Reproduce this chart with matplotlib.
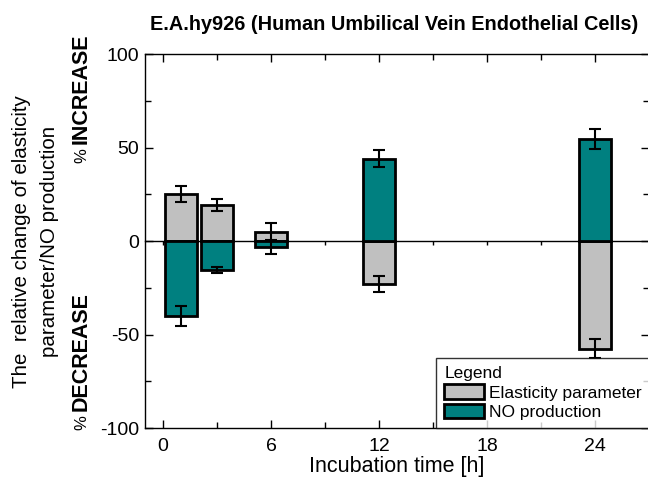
import matplotlib
matplotlib.use("Agg")
import matplotlib.pyplot as plt
import numpy as np
from matplotlib.patches import Patch
from matplotlib.ticker import MultipleLocator

plt.rcParams['font.family'] = ['Liberation Sans', 'DejaVu Sans']
plt.rcParams['axes.unicode_minus'] = False

# data
hours = [1, 3, 6, 12, 24]
elasticity = [25, 19.5, 5, -23, -57.5]
elasticity_err = [4.3, 3.2, 4.5, 4.3, 5.3]
no_prod = [-40, -15.5, -3.4, 44, 54.5]
no_prod_err = [5.2, 1.5, 3.5, 4.5, 5.5]

gray = '#c0c0c0'
teal = '#008080'

fig = plt.figure(figsize=(6.48, 4.90), dpi=100)
ax = fig.add_axes([145 / 648, 1 - 428 / 490, 504 / 648, 374 / 490])

ax.bar(hours, elasticity, width=1.8, color=gray, edgecolor='black', linewidth=2, zorder=2)
ax.bar(hours, no_prod, width=1.8, color=teal, edgecolor='black', linewidth=2, zorder=2)
ax.errorbar(hours, elasticity, yerr=elasticity_err, fmt='none', ecolor='black',
            elinewidth=1.5, capsize=4, capthick=1.5, zorder=3)
ax.errorbar(hours, no_prod, yerr=no_prod_err, fmt='none', ecolor='black',
            elinewidth=1.5, capsize=4, capthick=1.5, zorder=3)

ax.set_xlim(-1, 27)
ax.set_ylim(-100, 100)
ax.set_xticks([0, 6, 12, 18, 24])
ax.xaxis.set_minor_locator(MultipleLocator(3))
ax.set_yticks([-100, -50, 0, 50, 100])
ax.yaxis.set_minor_locator(MultipleLocator(25))
ax.tick_params(which='both', direction='in', top=True, right=True, width=1)
ax.tick_params(which='major', length=6, labelsize=14)
ax.tick_params(which='minor', length=4)
ax.tick_params(axis='x', pad=7)
ax.tick_params(axis='y', pad=4)
for s in ax.spines.values():
    s.set_linewidth(1)

# zero line with its own small ticks
zax = ax.secondary_xaxis(0.5)
zax.set_xticks([0, 6, 12, 18, 24])
zax.xaxis.set_minor_locator(MultipleLocator(3))
zax.tick_params(which='both', direction='in', length=3, width=1,
                labeltop=False, labelbottom=False)
for s in zax.spines.values():
    s.set_linewidth(1)

ax.set_xlabel('Incubation time [h]', fontsize=15.5, labelpad=1)
fig.text(394 / 648, 1 - 25 / 490, 'E.A.hy926 (Human Umbilical Vein Endothelial Cells)',
         ha='center', va='center', fontsize=14.3, fontweight='bold')

fig.text(22 / 648, 1 - 242 / 490, 'The  relative change of elasticity', rotation=90,
         ha='center', va='center', fontsize=14.8)
fig.text(50 / 648, 1 - 241 / 490, 'parameter/NO production', rotation=90,
         ha='center', va='center', fontsize=14.8)
fig.text(81 / 648, 1 - 144 / 490, 'INCREASE', rotation=90, ha='center', va='bottom',
         fontsize=15.5, fontweight='bold')
fig.text(82 / 648, 1 - 156 / 490, '%', rotation=90, ha='center', va='center', fontsize=12)
fig.text(81 / 648, 1 - 411 / 490, 'DECREASE', rotation=90, ha='center', va='bottom',
         fontsize=15.5, fontweight='bold')
fig.text(82 / 648, 1 - 423 / 490, '%', rotation=90, ha='center', va='center', fontsize=12)

handles = [Patch(facecolor=gray, edgecolor='black', linewidth=2, label='Elasticity parameter'),
           Patch(facecolor=teal, edgecolor='black', linewidth=2, label='NO production')]
leg = ax.legend(handles=handles, title='Legend', loc='lower right', fontsize=12.5,
                title_fontsize=12.5, frameon=True, fancybox=False, edgecolor='black',
                borderaxespad=0, handlelength=2.3, handleheight=0.9, handletextpad=0.25,
                labelspacing=0.2, borderpad=0.45)
leg.get_frame().set_linewidth(1)
leg._legend_box.align = 'left'

fig.savefig('out.png', dpi=100)
